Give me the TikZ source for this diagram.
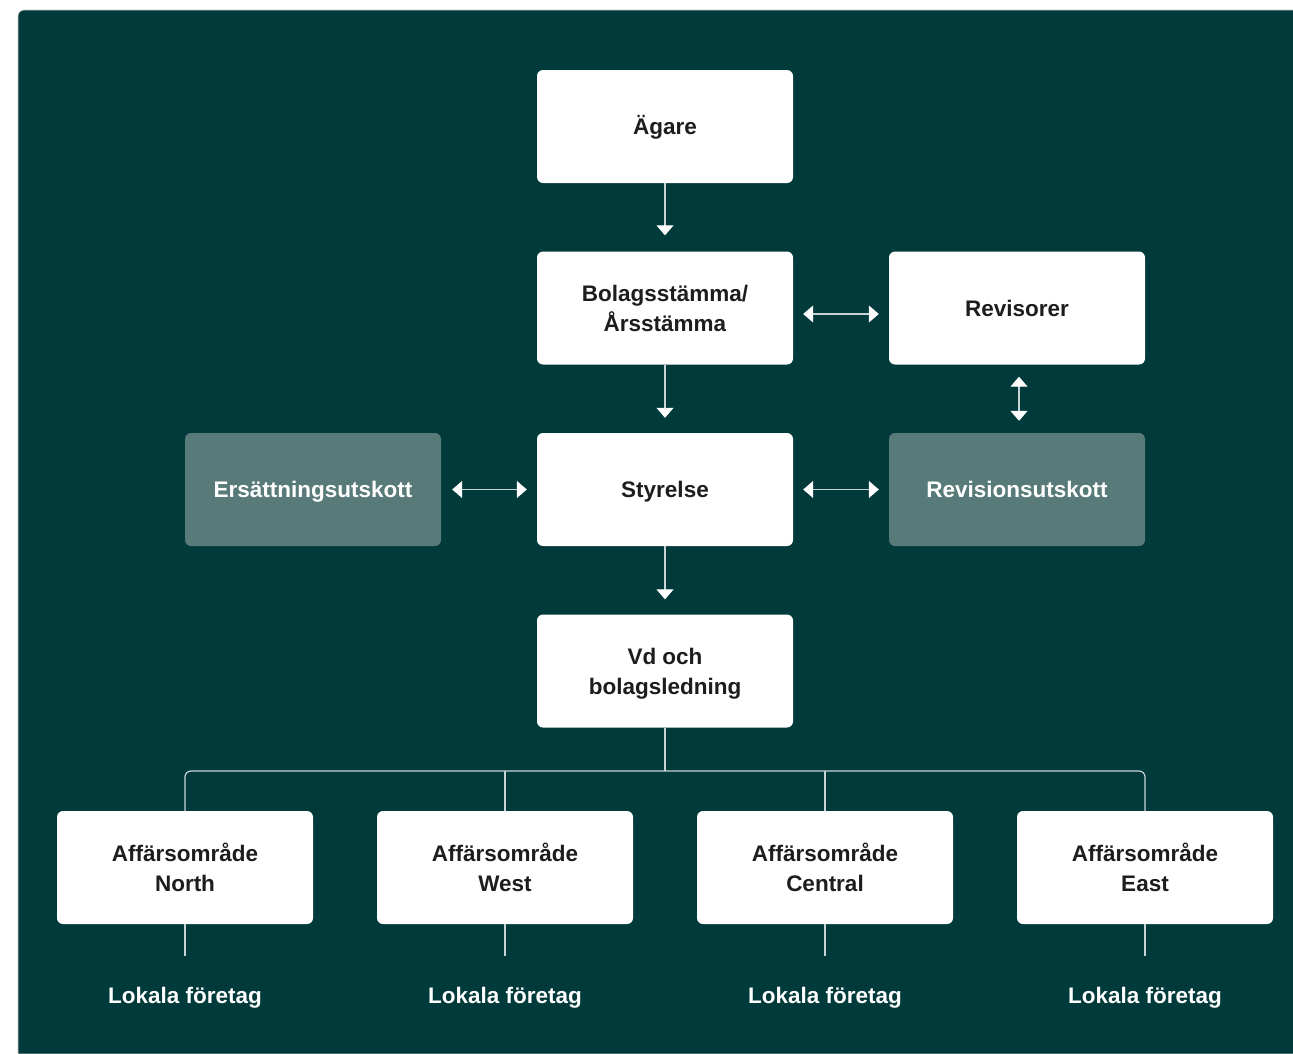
\documentclass[tikz,border=0pt]{standalone}
\usepackage{fontspec}
\setmainfont{Liberation Sans}
\usetikzlibrary{arrows.meta,positioning}
\definecolor{bg}{HTML}{013A3B}
\definecolor{graybox}{HTML}{587B79}
\definecolor{conn}{HTML}{C8D4D4}
\definecolor{txt}{HTML}{1D1D1B}
\begin{document}
\begin{tikzpicture}[x=1pt,y=-1pt,
  >={Triangle[length=10pt,width=17pt,color=white]},
  box/.style={rectangle,rounded corners=6pt,fill=white,minimum width=256pt,minimum height=113pt,
    align=center,inner sep=0pt,text=txt,text depth=0pt,font=\fontsize{22.5}{30}\selectfont\bfseries},
  single/.style={text height=16.5pt},
  graynode/.style={box,fill=graybox,text=white},
  conline/.style={draw=conn,line width=1.2pt},
  lokal/.style={anchor=base,inner sep=0pt,text height=16pt,text depth=5pt,text=white,
    font=\fontsize{22.5}{30}\selectfont\bfseries}]
\useasboundingbox (0,0) rectangle (1293,1053);
\fill[white] (0,0) rectangle (1293,1053);
\fill[bg,draw=black!20,line width=0.6pt] (18,1054) [rounded corners=6pt] -- (18,10) [sharp corners] -- (1294,10) -- (1294,1054) -- cycle;

\node[box,single] (agare) at (665,126.5) {Ägare};
\node[box] (bolag) at (665,308) {Bolagsstämma/\\Årsstämma};
\node[box,single] (revisorer) at (1017,308) {Revisorer};
\node[graynode,single] (ersatt) at (313,489.5) {Ersättningsutskott};
\node[box,single] (styrelse) at (665,489.5) {Styrelse};
\node[graynode,single] (revutsk) at (1017,489.5) {Revisionsutskott};
\node[box] (vd) at (665,671) {Vd och\\bolagsledning};

\node[box] (north) at (185,867.5) {Affärsområde\\North};
\node[box] (west) at (505,867.5) {Affärsområde\\West};
\node[box] (central) at (825,867.5) {Affärsområde\\Central};
\node[box] (east) at (1145,867.5) {Affärsområde\\East};

\node[lokal] (lokN) at (185,1003) {Lokala företag};
\node[lokal] (lokW) at (505,1003) {Lokala företag};
\node[lokal] (lokC) at (825,1003) {Lokala företag};
\node[lokal] (lokE) at (1145,1003) {Lokala företag};

\coordinate (bus) at (665,771);

% vertical arrows
\draw[conline,->,shorten >=16pt] (agare.south) -- (bolag.north);
\draw[conline,->,shorten >=15pt] (bolag.south) -- (styrelse.north);
\draw[conline,->,shorten >=15pt] (styrelse.south) -- (vd.north);

% horizontal double arrows
\draw[conline,<->,shorten <=10pt,shorten >=10pt] ([yshift=-6pt]bolag.east) -- ([yshift=-6pt]revisorer.west);
\draw[conline,<->,shorten <=11pt,shorten >=10pt] (ersatt.east) -- (styrelse.west);
\draw[conline,<->,shorten <=10pt,shorten >=10pt] (styrelse.east) -- (revutsk.west);
\draw[conline,<->,shorten <=12pt,shorten >=12pt] ([xshift=2pt]revisorer.south) -- ([xshift=2pt]revutsk.north);

% tree
\draw[conline] (vd.south) -- (bus);
\draw[conline,rounded corners=6pt] (north.north) |- (bus) -| (east.north);
\draw[conline] (west.north) -- (west.north |- bus);
\draw[conline] (central.north) -- (central.north |- bus);

% to local companies
\draw[conline,shorten >=31pt] (north.south) -- (lokN.north);
\draw[conline,shorten >=31pt] (west.south) -- (lokW.north);
\draw[conline,shorten >=31pt] (central.south) -- (lokC.north);
\draw[conline,shorten >=31pt] (east.south) -- (lokE.north);
\end{tikzpicture}
\end{document}
